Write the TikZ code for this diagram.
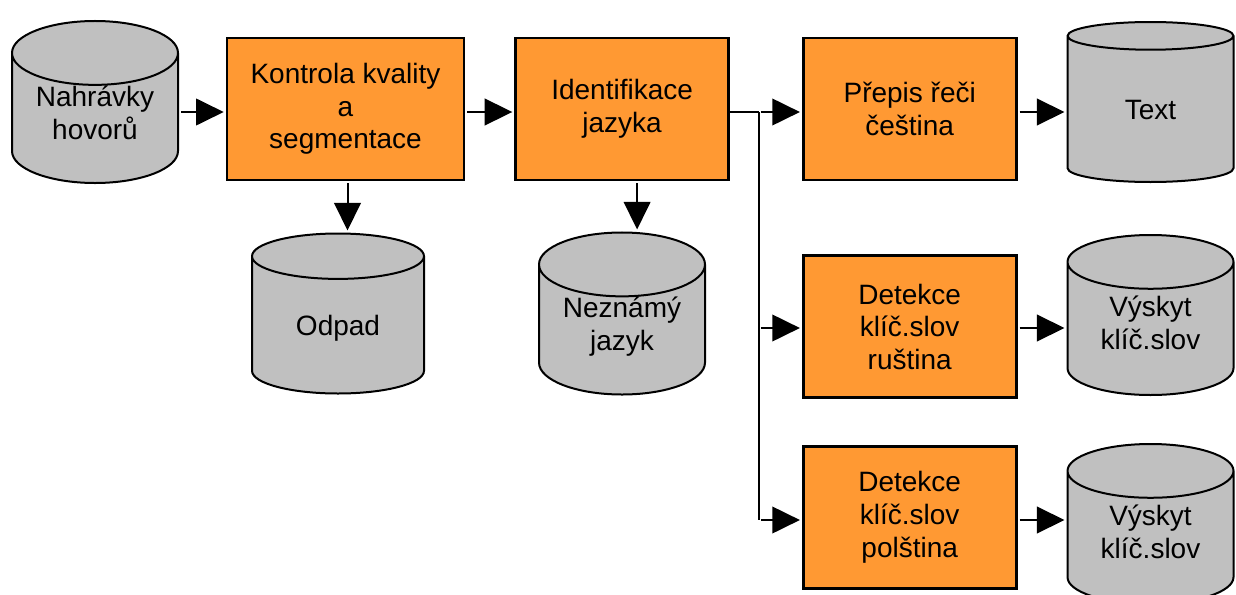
\documentclass[tikz,border=0pt]{standalone}
\usepackage{fontspec}
\setmainfont{Liberation Sans}
\usepackage{xcolor}
\usetikzlibrary{positioning,arrows.meta,shapes.geometric,calc}
\definecolor{procorange}{RGB}{255,153,51}
\definecolor{storegray}{RGB}{192,192,192}

\begin{document}
\begin{tikzpicture}[
    x=0.5pt, y=-0.5pt,
    font=\fontsize{14}{16.3}\selectfont,
    proc/.style={rectangle, draw, line width=1.3pt, minimum height=71pt, minimum width=106.5pt, align=center, fill=procorange, text=black, inner sep=0pt},
    store/.style={cylinder, shape border rotate=90, aspect=0.54, draw, line width=1pt, minimum height=80pt, minimum width=83pt, align=center, fill=storegray, text=black, inner sep=0pt, text depth=6pt, anchor=shape center},
    arr/.style={-{Triangle[length=13.8pt, width=13.3pt]}, line width=1pt, shorten <=1pt, shorten >=1pt},
    line/.style={line width=1pt}
]
\clip (0,0) rectangle (1236,594);
% ============================================================
% PROCESSING BLOCKS
% ============================================================
\node[proc, minimum width=118.5pt] (qc) at (345.5,109) {Kontrola kvality\\a\\segmentace};
\node[proc, right=24.5pt of qc]    (langid) {Identifikace\\jazyka};
\node[proc, right=36pt of langid]  (stt)    {Přepis řeči\\čeština};
\node[proc, below=36.5pt of stt]   (kwru)   {Detekce\\klíč.slov\\ruština};
\node[proc, below=23pt of kwru]    (kwpl)   {Detekce\\klíč.slov\\polština};

% ============================================================
% DATA STORES
% ============================================================
\node[store]                                    (calls)   at (95,102)     {Nahrávky\\hovorů};
\node[store, minimum width=86pt, text depth=0pt] (waste)   at (338,313.5)  {Odpad};
\node[store]                                    (unknown) at (622,313.5)  {Neznámý\\jazyk};
\node[store, text depth=0pt]                    (txt)     at (1150.5,102) {Text};
\node[store]                                    (hitsru)  at (1150.5,315) {Výskyt\\klíč.slov};
\node[store]                                    (hitspl)  at (1150.5,524) {Výskyt\\klíč.slov};

% ============================================================
% CONNECTORS
% ============================================================
\draw[arr] (calls.east |- 0,112) -- (qc.west |- 0,112);
\draw[arr] (qc.east |- 0,112) -- (langid.west |- 0,112);
\draw[arr] ([xshift=1pt]qc.south) -- ([xshift=1pt]qc.south |- waste.north);
\draw[arr] ([xshift=7.5pt]langid.south) -- ([xshift=7.5pt]langid.south |- unknown.north);

\draw[line] (langid.east |- 0,112) -- ++(14.5pt,0) coordinate (split);
\draw[line] (split) -- (split |- 0,520);
\draw[arr] (split) -- (stt.west |- split);
\draw[arr] (split |- 0,328) -- (kwru.west |- 0,328);
\draw[arr] (split |- 0,520) -- (kwpl.west |- 0,520);

\draw[arr] (stt.east |- 0,112) -- (txt.west |- 0,112);
\draw[arr] (kwru.east |- 0,328) -- (hitsru.west |- 0,328);
\draw[arr] (kwpl.east |- 0,520) -- (hitspl.west |- 0,520);

\end{tikzpicture}
\end{document}
